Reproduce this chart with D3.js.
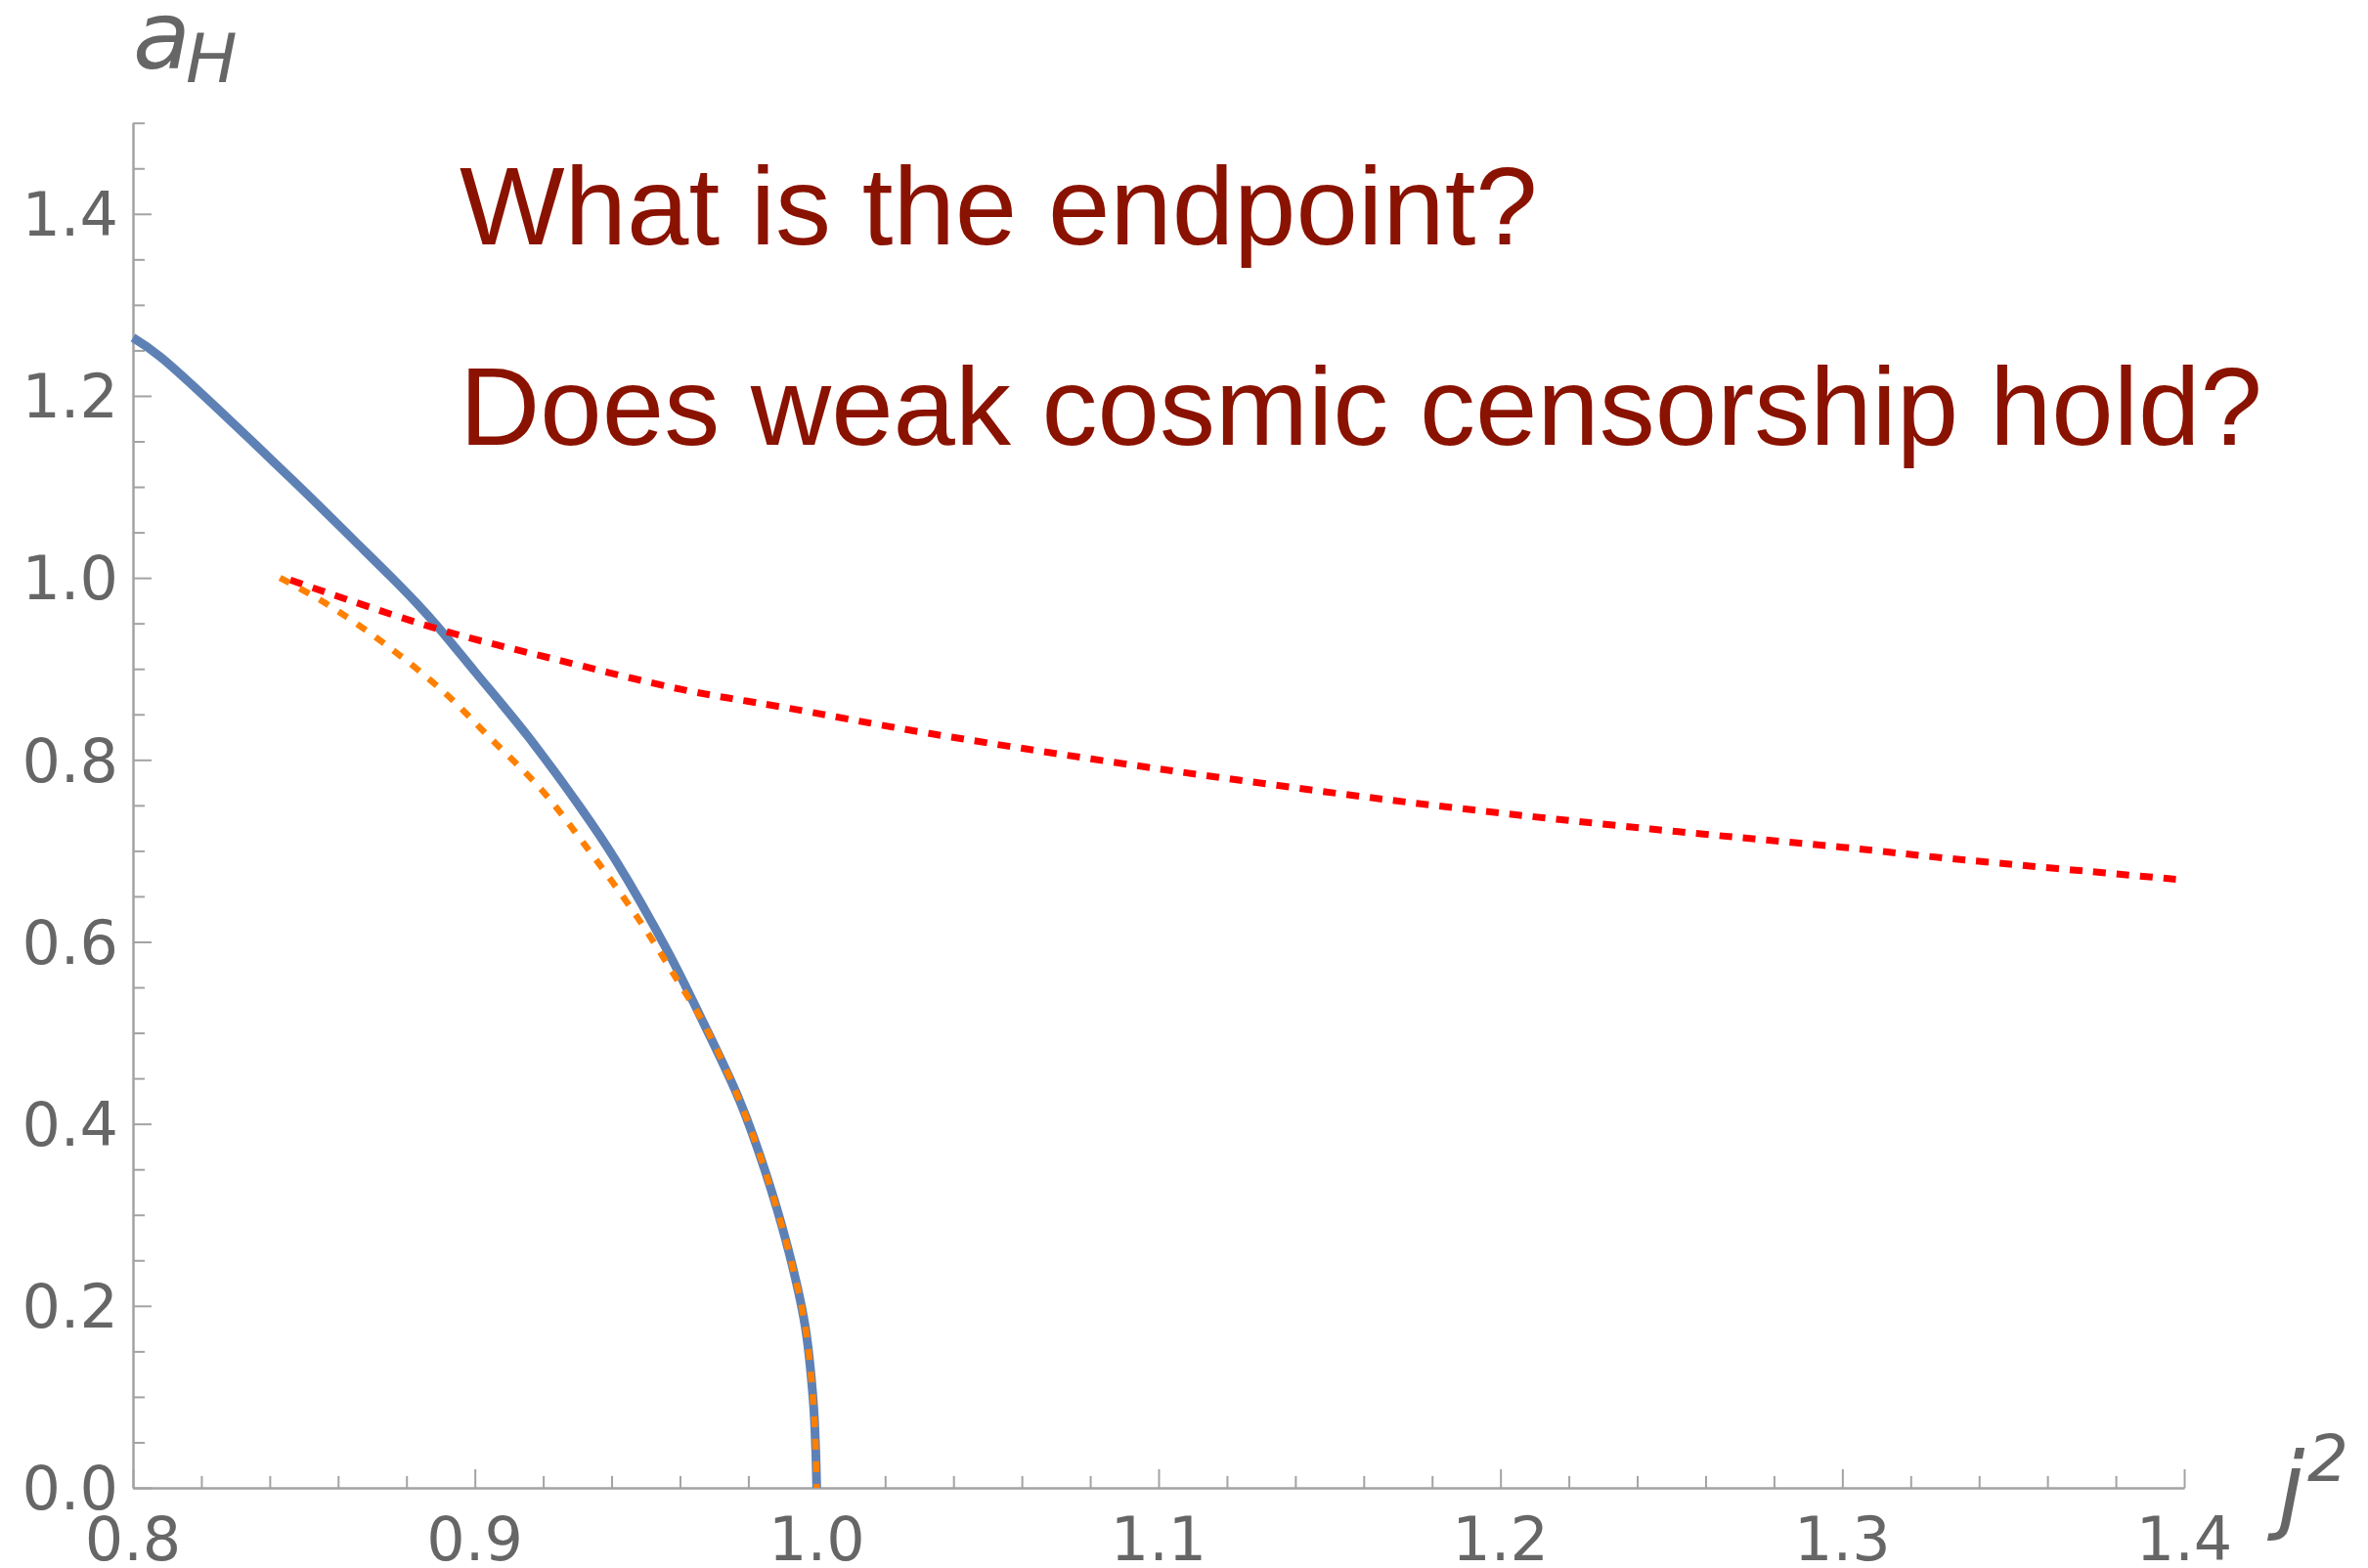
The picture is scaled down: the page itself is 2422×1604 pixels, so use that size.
<!DOCTYPE html>
<html>
<head>
<meta charset="utf-8">
<script src="https://cdn.jsdelivr.net/npm/d3@7"></script>
<style>
  html, body { margin: 0; padding: 0; background: #fff; }
  svg { display: block; }
</style>
</head>
<body>
<svg id="chart" width="2422" height="1604"></svg>
<script>
// Horizon curve a_H versus j^2 (solid blue)
const blueJ = [0.800, 0.808, 0.846, 0.865, 0.8755, 0.883, 0.889, 0.900, 0.9155, 0.931, 0.9413, 0.9565, 0.967, 0.9775, 0.9851, 0.9918, 0.9966, 0.999, 0.9997, 1.000];
const blueA = [1.264, 1.243, 1.110, 1.040, 1.001, 0.972, 0.947, 0.897, 0.826, 0.747, 0.689, 0.589, 0.510, 0.425, 0.346, 0.260, 0.178, 0.095, 0.042, 0.000];

// Approximation branch (dashed orange)
const orangeJ = [0.843, 0.8564, 0.8736, 0.8907, 0.9041, 0.9193, 0.9317, 0.9479, 0.9594, 0.967, 0.9775, 0.9851, 0.9918, 0.9966, 0.999, 0.9997, 1.000];
const orangeA = [1.000, 0.972, 0.9275, 0.8755, 0.8255, 0.768, 0.709, 0.625, 0.557, 0.510, 0.425, 0.346, 0.260, 0.178, 0.095, 0.042, 0.000];

// Second branch (dashed red)
const redJ = [0.845, 0.889, 0.923, 0.961, 0.990, 1.033, 1.104, 1.176, 1.244, 1.300, 1.333, 1.400];
const redA = [0.999, 0.944, 0.911, 0.877, 0.858, 0.829, 0.788, 0.752, 0.724, 0.704, 0.691, 0.668];

// Axes ticks
const xMajor = [0.8, 0.9, 1.0, 1.1, 1.2, 1.3, 1.4];
const xLabels = ["0.8", "0.9", "1.0", "1.1", "1.2", "1.3", "1.4"];
const yMajor = [0.0, 0.2, 0.4, 0.6, 0.8, 1.0, 1.2, 1.4];
const yLabels = ["0.0", "0.2", "0.4", "0.6", "0.8", "1.0", "1.2", "1.4"];

const questions = ["What is the endpoint?", "Does weak cosmic censorship hold?"];

const svg = d3.select("#chart");
const axisColor = "#a3a3a3";
const textColor = "#666666";

const x = d3.scaleLinear().domain([0.8, 1.4]).range([136, 2234]);
const y = d3.scaleLinear().domain([0, 1.5]).range([1522, 125.7]);

// Minor tick positions
const xMinor = d3.range(0, 31).map(i => 0.8 + i * 0.02)
  .filter(v => !xMajor.some(m => Math.abs(m - v) < 1e-6));
const yMinor = d3.range(0, 31).map(i => i * 0.05)
  .filter(v => !yMajor.some(m => Math.abs(m - v) < 1e-6));

// X axis (ticks point inward / up)
const gx = svg.append("g").attr("transform", `translate(0,${y(0)})`);
gx.call(d3.axisBottom(x).tickValues(xMajor).tickSize(-19).tickSizeOuter(0).tickFormat(""));
gx.append("g").call(d3.axisBottom(x).tickValues(xMinor).tickSize(-12).tickSizeOuter(0).tickFormat(""));
gx.selectAll("path.domain").attr("stroke", axisColor).attr("stroke-width", 2);
gx.selectAll("line").attr("stroke", axisColor).attr("stroke-width", 2);

// Y axis (ticks point inward / right)
const gy = svg.append("g").attr("transform", `translate(${x(0.8)},0)`);
gy.call(d3.axisLeft(y).tickValues(yMajor).tickSize(-19).tickSizeOuter(0).tickFormat(""));
gy.append("g").call(d3.axisLeft(y).tickValues(yMinor).tickSize(-12).tickSizeOuter(0).tickFormat(""));
gy.selectAll("path.domain").attr("stroke", axisColor).attr("stroke-width", 2);
gy.selectAll("line").attr("stroke", axisColor).attr("stroke-width", 2);

// Tick labels
svg.append("g").selectAll("text").data(xMajor).join("text")
  .attr("x", d => x(d)).attr("y", 1596)
  .attr("text-anchor", "middle")
  .attr("font-family", "DejaVu Sans").attr("font-size", 62)
  .attr("fill", textColor)
  .text((d, i) => xLabels[i]);

svg.append("g").selectAll("text").data(yMajor).join("text")
  .attr("x", 121).attr("y", d => y(d))
  .attr("dy", "0.36em")
  .attr("text-anchor", "end")
  .attr("font-family", "DejaVu Sans").attr("font-size", 62)
  .attr("fill", textColor)
  .text((d, i) => yLabels[i]);

// Axis labels
const yl = svg.append("text").attr("font-family", "DejaVu Sans").attr("font-style", "italic").attr("fill", textColor);
yl.append("tspan").attr("x", 136).attr("y", 70).attr("font-size", 96).text("a");
yl.append("tspan").attr("x", 190).attr("y", 84).attr("font-size", 70).text("H");

const xl = svg.append("text").attr("font-family", "DejaVu Sans").attr("font-style", "italic").attr("fill", textColor);
xl.append("tspan").attr("x", 2330).attr("y", 1556).attr("font-size", 98).text("j");
xl.append("tspan").attr("x", 2360).attr("y", 1515).attr("font-size", 66).text("2");

// Curves
const smooth = d3.line().x(d => x(d[0])).y(d => y(d[1])).curve(d3.curveCatmullRom.alpha(0.5));
const blue = blueJ.map((j, i) => [j, blueA[i]]);
const orange = orangeJ.map((j, i) => [j, orangeA[i]]);
const red = redJ.map((j, i) => [j, redA[i]]);

svg.append("path").datum(blue).attr("d", smooth)
  .attr("fill", "none").attr("stroke", "#5e81b5").attr("stroke-width", 9)
  .attr("stroke-linejoin", "round");

svg.append("path").datum(red).attr("d", smooth)
  .attr("fill", "none").attr("stroke", "#ff0000").attr("stroke-width", 7)
  .attr("stroke-dasharray", "13,11").attr("stroke-dashoffset", -4);

svg.append("path").datum(orange).attr("d", smooth)
  .attr("fill", "none").attr("stroke", "#ff8000").attr("stroke-width", 6.5)
  .attr("stroke-dasharray", "11,12");

// Questions
svg.append("g").selectAll("text").data(questions).join("text")
  .attr("x", 470).attr("y", (d, i) => 250 + i * 205)
  .attr("font-family", "Liberation Sans, Arial, sans-serif")
  .attr("font-size", 114)
  .attr("fill", "#8a1200")
  .text(d => d);
</script>
</body>
</html>
